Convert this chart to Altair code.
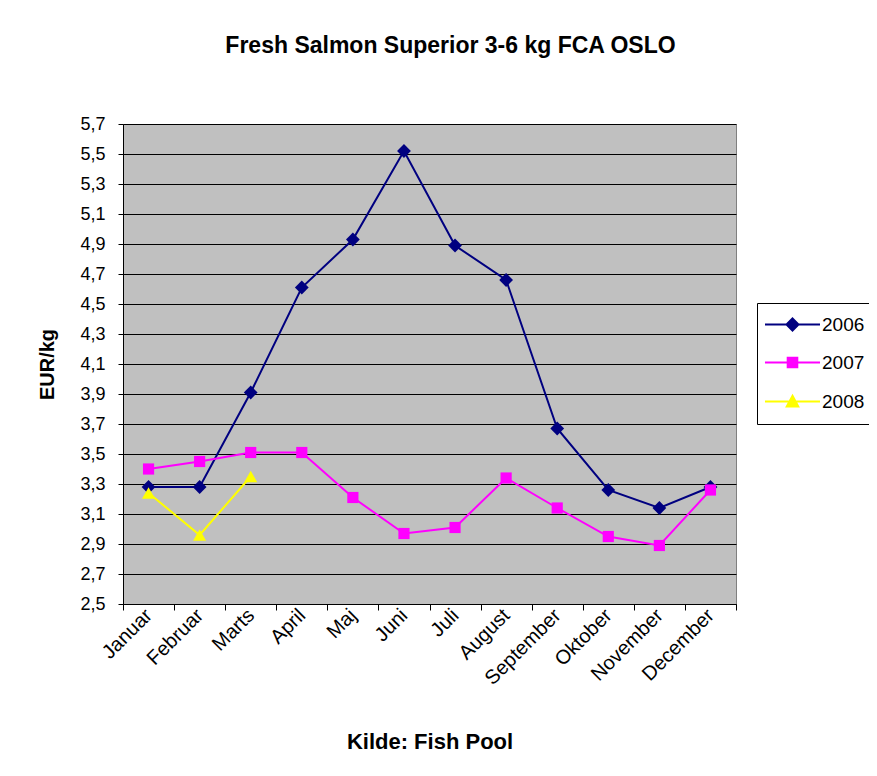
import altair as alt
import pandas as pd

months = ["Januar", "Februar", "Marts", "April", "Maj", "Juni", "Juli",
          "August", "September", "Oktober", "November", "December"]
series_names = ["2006", "2007", "2008"]
p2006 = [3.28, 3.28, 3.91, 4.61, 4.93, 5.52, 4.89, 4.66, 3.67, 3.26, 3.14, 3.28]
p2007 = [3.40, 3.45, 3.51, 3.51, 3.21, 2.97, 3.01, 3.34, 3.14, 2.95, 2.89, 3.26]
p2008 = [3.24, 2.96, 3.35]
y_ticks = [2.5, 2.7, 2.9, 3.1, 3.3, 3.5, 3.7, 3.9, 4.1, 4.3, 4.5, 4.7, 4.9, 5.1, 5.3, 5.5, 5.7]
colors = ["#000080", "#FF00FF", "#FFFF00"]
marker_shapes = ["diamond", "square", "triangle-up"]
marker_sizes = [190, 125, 170]

# legend symbols: a short line with the marker on it
legend_paths = [
    "M-3.44,0L3.44,0M0,-0.75L0.75,0L0,0.75L-0.75,0Z",
    "M-3.44,0L3.44,0M-0.6,-0.6L0.6,-0.6L0.6,0.6L-0.6,0.6Z",
    "M-3.44,0L3.44,0M0,-0.72L0.72,0.62L-0.72,0.62Z",
]

rows = []
for name, vals in zip(series_names, [p2006, p2007, p2008]):
    for m, v in zip(months, vals):
        rows.append({"month": m, "series": name, "value": v})
df = pd.DataFrame(rows)

FONT = "Liberation Sans"

x_enc = alt.X(
    "month:N",
    sort=months,
    bandPosition=0.5,
    scale=alt.Scale(type="band", domain=months, paddingInner=0, paddingOuter=0),
    axis=alt.Axis(
        title="Kilde: Fish Pool",
        titleFont=FONT, titleFontSize=22, titleFontWeight="bold", titleColor="black",
        titlePadding=43,
        labelAngle=-45, labelFont=FONT, labelFontSize=20, labelColor="black",
        labelPadding=2, labelBaseline="middle", labelAlign="right",
        tickBand="extent", tickSize=6, tickColor="black",
        domainColor="black", grid=False,
    ),
)
y_enc = alt.Y(
    "value:Q",
    scale=alt.Scale(domain=[2.5, 5.7], nice=False, zero=False),
    axis=alt.Axis(
        title="EUR/kg",
        titleFont=FONT, titleFontSize=20, titleFontWeight="bold", titleColor="black",
        titlePadding=22,
        values=y_ticks,
        labelExpr="replace(format(datum.value, '.1f'), '.', ',')",
        labelFont=FONT, labelFontSize=18, labelColor="black", labelPadding=13,
        tickSize=5, tickColor="black", domainColor="black",
        grid=True, gridColor="black", gridWidth=1, gridOpacity=1,
    ),
)

color_scale = alt.Scale(domain=series_names, range=colors)

base = alt.Chart(df)

series_layers = []
for name, col, shp, sz in zip(series_names, colors, marker_shapes, marker_sizes):
    sub = base.transform_filter(alt.datum.series == name)
    series_layers.append(sub.mark_line(strokeWidth=2, color=col).encode(x=x_enc, y=y_enc))
    series_layers.append(
        sub.mark_point(filled=True, shape=shp, size=sz, opacity=1, color=col)
        .encode(x=x_enc, y=y_enc)
    )

legend_def = alt.Legend(
    title=None, orient="none", legendX=634, legendY=179,
    padding=12, strokeColor="black", fillColor="white",
    symbolSize=256, symbolStrokeWidth=2, symbolOpacity=1, symbolOffset=14,
    labelOffset=20, labelFont=FONT, labelFontSize=19, labelColor="black",
    rowPadding=18, labelLimit=200,
)
# legend-only layer: draws no marks (filtered empty), only supplies the legend
legend_layer = base.transform_filter(alt.datum.value < 0).mark_point(filled=True).encode(
    x=x_enc, y=y_enc,
    fill=alt.Fill("series:N", scale=color_scale, legend=legend_def),
    stroke=alt.Stroke("series:N", scale=color_scale, legend=legend_def),
    shape=alt.Shape("series:N", scale=alt.Scale(domain=series_names, range=legend_paths),
                    legend=legend_def),
)

chart = alt.layer(*series_layers, legend_layer).properties(
    width=613, height=480,
    autosize=alt.AutoSizeParams(type="none"),
    padding={"left": 115, "top": 116, "right": 133, "bottom": 164},
    title=alt.TitleParams(
        "Fresh Salmon Superior 3-6 kg FCA OSLO",
        font=FONT, fontSize=23, fontWeight="bold", color="black",
        anchor="middle", offset=57, dx=21,
    ),
).configure(
    background="white",
).configure_view(
    fill="#C0C0C0", stroke="#808080", strokeWidth=1,
)

chart.save("out.html", embed_options={"renderer": "svg", "actions": False})
